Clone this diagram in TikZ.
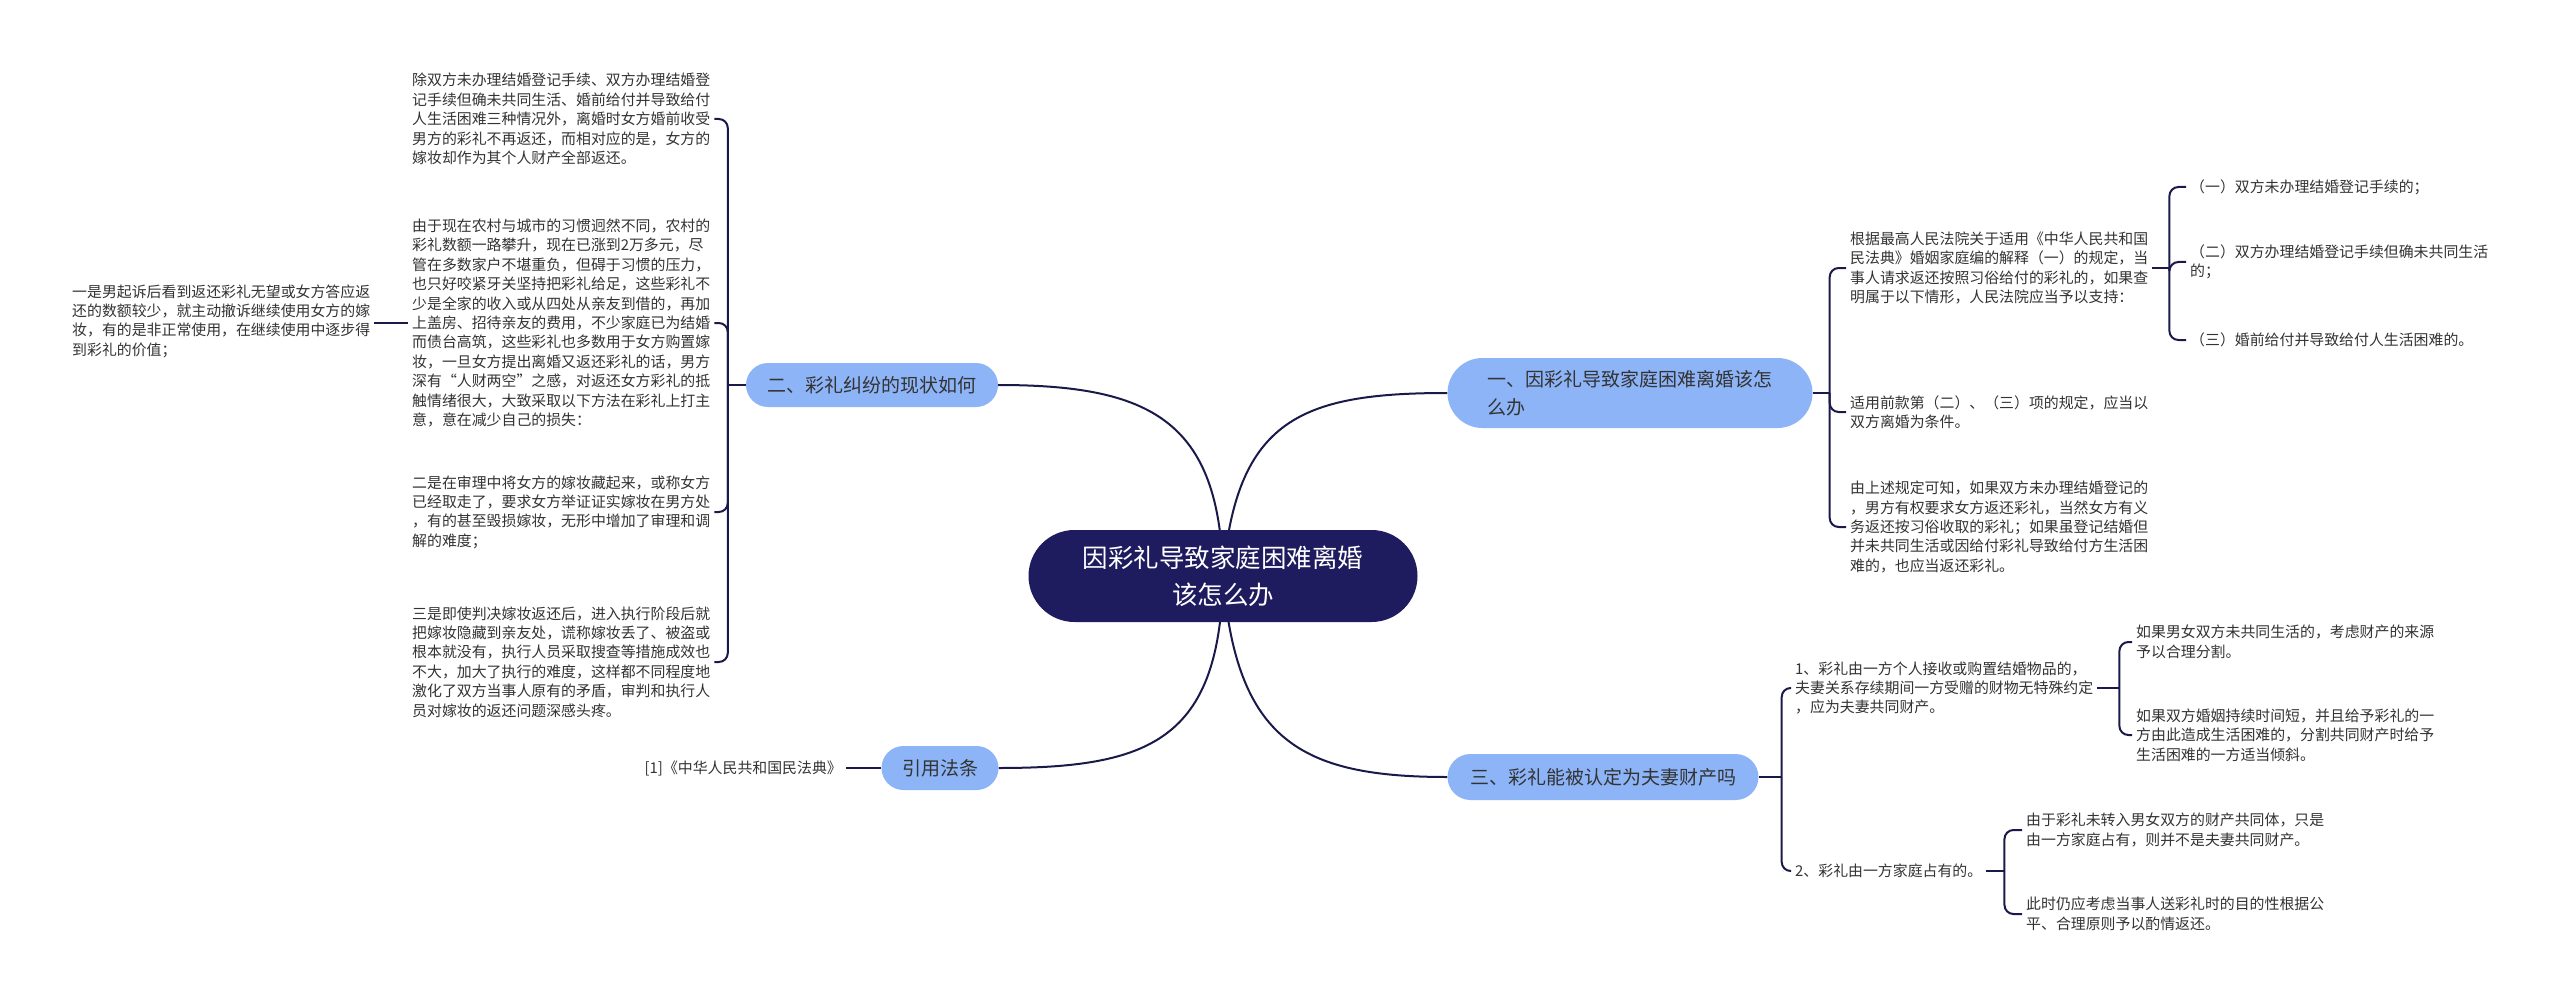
\documentclass[tikz,border=0pt]{standalone}
\usepackage{fontspec}
\setmainfont{Noto Sans CJK SC}
\usetikzlibrary{backgrounds}
\definecolor{navy}{HTML}{1E1B5E}
\definecolor{lineC}{HTML}{1A1A4A}
\definecolor{branchC}{HTML}{8DB4F7}
\definecolor{txtC}{HTML}{333333}
\begin{document}
\begin{tikzpicture}[x=1pt,y=-1pt,
  leaf/.style={font=\fontsize{14.9}{19.4}\selectfont, text=txtC, align=left, inner sep=4pt},
  branch/.style={fill=branchC, rounded corners=22pt, minimum height=44pt, font=\fontsize{19}{28}\selectfont, text=txtC, inner sep=0pt, align=left},
  link/.style={draw=lineC, line width=2pt},
  bracket/.style={link, rounded corners=9pt},
]
\useasboundingbox (0,0) rectangle (2560,1003);
\begin{scope}[on background layer]
\fill[white] (0,0) rectangle (2560,1003);
\end{scope}

% root and branches
\node[fill=navy, rounded corners=46pt, minimum width=389pt, minimum height=92pt, text=white,
      font=\fontsize{25.5}{37}\selectfont, align=center, inner sep=0pt] (root) at (1223,576)
      {因彩礼导致家庭困难离婚\\该怎么办};
\node[branch, minimum width=365pt, minimum height=70pt, rounded corners=35pt] (b1) at (1630,393)
      {一、因彩礼导致家庭困难离婚该怎\\么办};
\node[branch, minimum width=252pt] (b2) at (872,385) {二、彩礼纠纷的现状如何};
\node[branch, minimum width=311pt, minimum height=46pt, rounded corners=23pt] (b3) at (1603,777)
      {三、彩礼能被认定为夫妻财产吗};
\node[branch, minimum width=117pt] (b4) at (940,768) {引用法条};

% branch 2 leaves
\node[leaf, anchor=west] (c2a) at (408,119) {除双方未办理结婚登记手续、双方办理结婚登\\记手续但确未共同生活、婚前给付并导致给付\\人生活困难三种情况外，离婚时女方婚前收受\\男方的彩礼不再返还，而相对应的是，女方的\\嫁妆却作为其个人财产全部返还。};
\node[leaf, anchor=west] (c2b) at (408,323) {由于现在农村与城市的习惯迥然不同，农村的\\彩礼数额一路攀升，现在已涨到2万多元，尽\\管在多数家户不堪重负，但碍于习惯的压力，\\也只好咬紧牙关坚持把彩礼给足，这些彩礼不\\少是全家的收入或从四处从亲友到借的，再加\\上盖房、招待亲友的费用，不少家庭已为结婚\\而债台高筑，这些彩礼也多数用于女方购置嫁\\妆，一旦女方提出离婚又返还彩礼的话，男方\\深有“人财两空”之感，对返还女方彩礼的抵\\触情绪很大，大致采取以下方法在彩礼上打主\\意，意在减少自己的损失：};
\node[leaf, anchor=west] (c2c) at (408,512) {二是在审理中将女方的嫁妆藏起来，或称女方\\已经取走了，要求女方举证证实嫁妆在男方处\\，有的甚至毁损嫁妆，无形中增加了审理和调\\解的难度；};
\node[leaf, anchor=west] (c2d) at (408,662) {三是即使判决嫁妆返还后，进入执行阶段后就\\把嫁妆隐藏到亲友处，谎称嫁妆丢了、被盗或\\根本就没有，执行人员采取搜查等措施成效也\\不大，加大了执行的难度，这样都不同程度地\\激化了双方当事人原有的矛盾，审判和执行人\\员对嫁妆的返还问题深感头疼。};
\node[leaf, anchor=west] (c2b1) at (68,321) {一是男起诉后看到返还彩礼无望或女方答应返\\还的数额较少，就主动撤诉继续使用女方的嫁\\妆，有的是非正常使用，在继续使用中逐步得\\到彩礼的价值；};

% branch 1 leaves
\node[leaf, anchor=west] (c1a) at (1846,268) {根据最高人民法院关于适用《中华人民共和国\\民法典》婚姻家庭编的解释（一）的规定，当\\事人请求返还按照习俗给付的彩礼的，如果查\\明属于以下情形，人民法院应当予以支持：};
\node[leaf, anchor=west] (c1a1) at (2186,187) {（一）双方未办理结婚登记手续的；};
\node[leaf, anchor=west] (c1a2) at (2186,262) {（二）双方办理结婚登记手续但确未共同生活\\的；};
\node[leaf, anchor=west] (c1a3) at (2186,340) {（三）婚前给付并导致给付人生活困难的。};
\node[leaf, anchor=west] (c1b) at (1846,412) {适用前款第（二）、（三）项的规定，应当以\\双方离婚为条件。};
\node[leaf, anchor=west] (c1c) at (1846,527) {由上述规定可知，如果双方未办理结婚登记的\\，男方有权要求女方返还彩礼，当然女方有义\\务返还按习俗收取的彩礼；如果虽登记结婚但\\并未共同生活或因给付彩礼导致给付方生活困\\难的，也应当返还彩礼。};

% branch 3 leaves
\node[leaf, anchor=west] (c3a) at (1791,688) {1、彩礼由一方个人接收或购置结婚物品的，\\夫妻关系存续期间一方受赠的财物无特殊约定\\，应为夫妻共同财产。};
\node[leaf, anchor=west] (c3a1) at (2132,642) {如果男女双方未共同生活的，考虑财产的来源\\予以合理分割。};
\node[leaf, anchor=west] (c3a2) at (2132,735) {如果双方婚姻持续时间短，并且给予彩礼的一\\方由此造成生活困难的，分割共同财产时给予\\生活困难的一方适当倾斜。};
\node[leaf, anchor=west] (c3b) at (1791,871) {2、彩礼由一方家庭占有的。};
\node[leaf, anchor=west] (c3b1) at (2022,830) {由于彩礼未转入男女双方的财产共同体，只是\\由一方家庭占有，则并不是夫妻共同财产。};
\node[leaf, anchor=west] (c3b2) at (2022,914) {此时仍应考虑当事人送彩礼时的目的性根据公\\平、合理原则予以酌情返还。};

% branch 4 leaf
\node[leaf, anchor=east] (lit) at (846,768) {[1]《中华人民共和国民法典》};

% root connectors
\begin{scope}[on background layer]
\draw[link] (root.center) .. controls (1236,420) and (1300,393) .. (b1.west);
\draw[link] (root.center) .. controls (1220,420) and (1150,385) .. (b2.east);
\draw[link] (root.center) .. controls (1236,740) and (1300,777) .. (b3.west);
\draw[link] (root.center) .. controls (1220,740) and (1150,768) .. (b4.east);
\end{scope}

% branch 1 brackets
\draw[link] (b1.east) -- ++(17,0) coordinate (j1);
\foreach \c in {c1a,c1b,c1c} \draw[bracket] (j1) |- (\c.west);
\draw[link] (c1a.east) -- ++(17,0) coordinate (j1a);
\foreach \c in {c1a1,c1a2,c1a3} \draw[bracket] (j1a) |- (\c.west);

% branch 2 brackets
\draw[link] (b2.west) -- ++(-18,0) coordinate (j2);
\foreach \c in {c2a,c2b,c2c,c2d} \draw[bracket] (j2) |- (\c.east);
\draw[link] (c2b.west) -- (c2b.west -| c2b1.east);

% branch 3 brackets
\draw[link] (b3.east) -- ++(23,0) coordinate (j3);
\foreach \c in {c3a,c3b} \draw[bracket] (j3) |- (\c.west);
\draw[link] (c3a.east) -- ++(22,0) coordinate (j3a);
\foreach \c in {c3a1,c3a2} \draw[bracket] (j3a) |- (\c.west);
\draw[link] (c3b.east) -- ++(18,0) coordinate (j3b);
\foreach \c in {c3b1,c3b2} \draw[bracket] (j3b) |- (\c.west);

% branch 4
\draw[link] (b4.west) -- (lit.east);
\end{tikzpicture}
\end{document}
